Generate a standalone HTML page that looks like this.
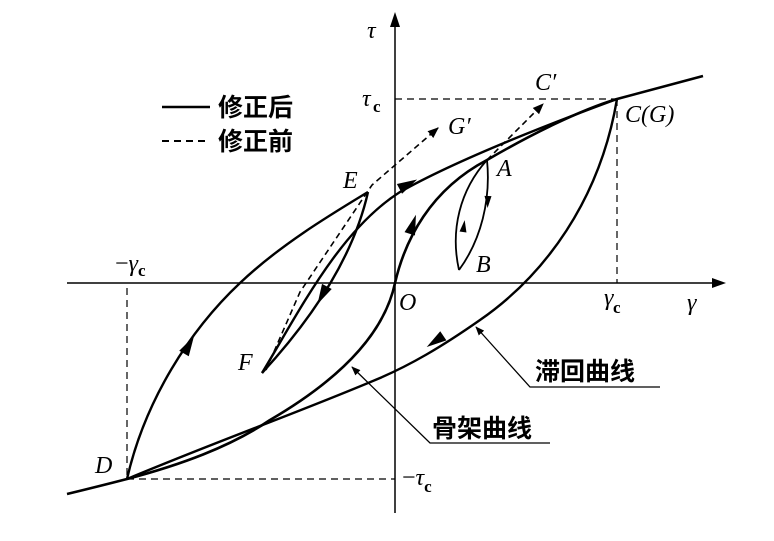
<!DOCTYPE html>
<html><head><meta charset="utf-8"><style>
body{margin:0;background:#fff;}
svg{display:block;}
.t{font-family:"Liberation Serif",serif;font-style:italic;font-size:24px;}
.c{font-family:"Liberation Sans","Noto Sans CJK SC",sans-serif;font-size:25px;font-weight:bold;}
</style></head><body>
<svg width="774" height="541" viewBox="0 0 774 541" xmlns="http://www.w3.org/2000/svg">
<defs>
<marker id="ah" viewBox="0 0 10 10" refX="9" refY="5" markerWidth="7" markerHeight="7" orient="auto-start-reverse"><path d="M0,1 L10,5 L0,9 z" fill="#000"/></marker>
</defs>
<g stroke="#000" fill="none">
<line x1="67" y1="283" x2="718" y2="283" stroke-width="1.5"/>
<path d="M726,283 L712,278 L712,288 z" fill="#000" stroke="none"/>
<line x1="395" y1="513" x2="395" y2="22" stroke-width="1.5"/>
<path d="M395,12 L390,27 L400,27 z" fill="#000" stroke="none"/>
<g stroke-dasharray="7,5" stroke-width="1.2">
<line x1="395" y1="99" x2="617" y2="99"/>
<line x1="617" y1="99" x2="617" y2="283"/>
<line x1="127" y1="288" x2="127" y2="479"/>
<line x1="127" y1="479" x2="395" y2="479"/>
</g>
<path d="M67,494 Q100,486 127,479 C180,465 230,447 270,420 C330,385 383,340 395,283 C405,240 430,190 487,160 C530,135 580,110 617,99 L703,76" stroke-width="2.6"/>
<path d="M617,99 C600,200 545,275 480,320 C440,348 410,365 380,378 C300,412 220,440 127,479" stroke-width="2.4"/>
<path d="M127,479 C145,400 190,330 240,283 C280,245 330,215 368,192" stroke-width="2.4"/>
<path d="M368,192 C355,250 320,310 262,373" stroke-width="2.4"/>
<path d="M262,373 C300,310 340,230 400,192 C460,158 560,120 617,99" stroke-width="2.4"/>
<path d="M487,160 C491,200 481,240 459,270" stroke-width="1.8"/>
<path d="M459,270 C450,230 460,190 487,160" stroke-width="1.8"/>
<path d="M266,370 L300,292 L372,185 L438,128" stroke-dasharray="6,4" stroke-width="1.6" marker-end="url(#ah)"/>
<path d="M487,160 L543,104" stroke-dasharray="6,4" stroke-width="1.6" marker-end="url(#ah)"/>
<polyline points="660,387 530,387 476,327" stroke-width="1.3" marker-end="url(#ah)"/>
<polyline points="550,443 430,443 352,367" stroke-width="1.3" marker-end="url(#ah)"/>
<line x1="162" y1="107" x2="210" y2="107" stroke-width="2.4"/>
<line x1="162" y1="141" x2="210" y2="141" stroke-width="2" stroke-dasharray="7,5"/>
</g>
<g fill="#000">
<path d="M-4,-5.5 L16,0 L-4,5.5 z" transform="translate(403,187) rotate(-28)"/>
<path d="M-4,-5.5 L16,0 L-4,5.5 z" transform="translate(411,230) rotate(-72)"/>
<path d="M-4,-5.5 L16,0 L-4,5.5 z" transform="translate(186,350) rotate(-60)"/>
<path d="M-4,-5.5 L16,0 L-4,5.5 z" transform="translate(325,290) rotate(118)"/>
<path d="M-4,-5.5 L16,0 L-4,5.5 z" transform="translate(440,338) rotate(146)"/>
<path d="M0,-3.5 L12,0 L0,3.5 z" transform="translate(488,196) rotate(92)"/>
<path d="M0,-3.5 L12,0 L0,3.5 z" transform="translate(463,232) rotate(-82)"/>
</g>
<text class="t" x="367" y="38">τ</text>
<text class="t" x="362" y="106">τ</text><text x="373" y="112" font-family="Liberation Serif" font-size="17" font-weight="bold">c</text>
<text class="t" x="535" y="90">C′</text>
<text class="t" x="625" y="122">C(G)</text>
<text class="t" x="448" y="134">G′</text>
<text class="t" x="343" y="188">E</text>
<text class="t" x="497" y="176">A</text>
<text class="t" x="476" y="272">B</text>
<text x="115" y="271" font-family="Liberation Serif" font-size="24">−<tspan font-style="italic">γ</tspan><tspan font-size="17" dy="5" font-weight="bold">c</tspan></text>
<text class="t" x="399" y="310">O</text>
<text class="t" x="604" y="305">γ</text><text x="613" y="313" font-family="Liberation Serif" font-size="17" font-weight="bold">c</text>
<text class="t" x="687" y="310">γ</text>
<text class="t" x="238" y="370">F</text>
<text class="t" x="95" y="473">D</text>
<text x="402" y="485" font-family="Liberation Serif" font-size="24">−<tspan font-style="italic">τ</tspan><tspan font-size="17" dy="7" font-weight="bold">c</tspan></text>
<text class="c" x="218" y="116">修正后</text>
<text class="c" x="218" y="150">修正前</text>
<text class="c" x="535" y="380">滞回曲线</text>
<text class="c" x="432" y="437">骨架曲线</text>
</svg>
</body></html>
